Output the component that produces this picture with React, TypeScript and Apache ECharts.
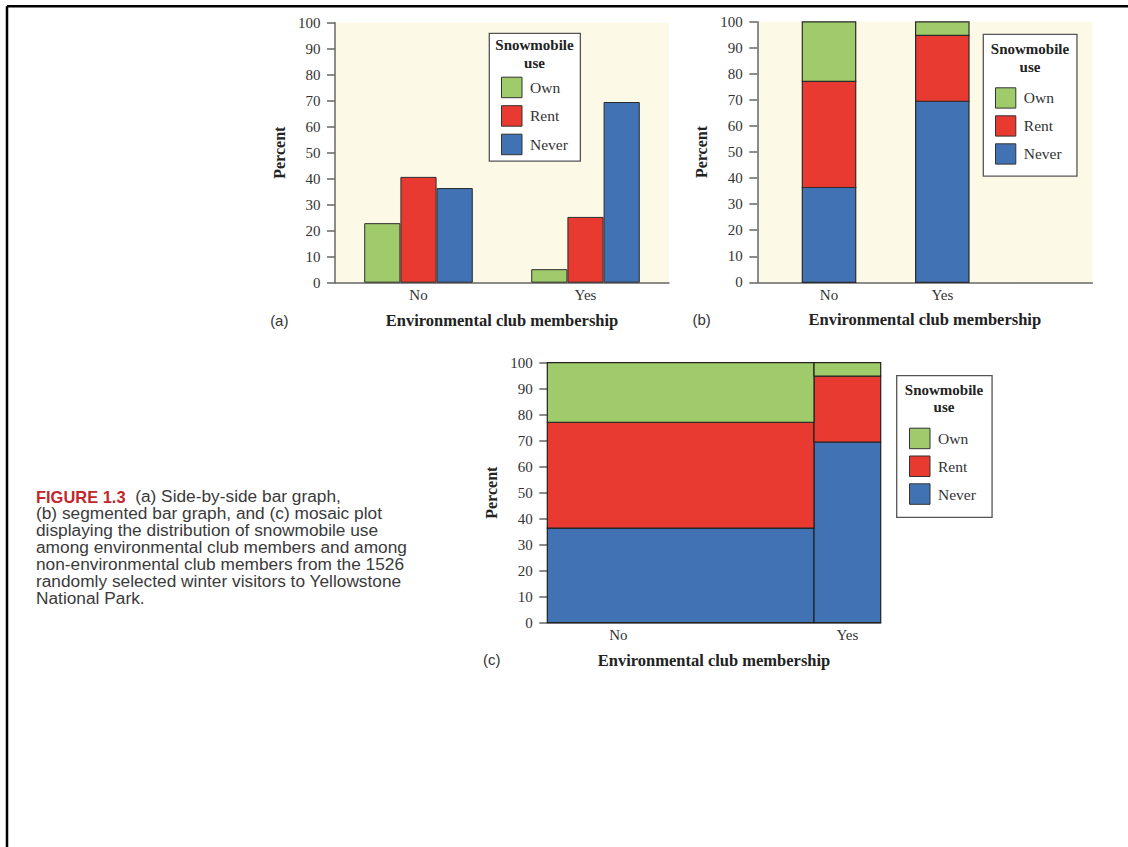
import React, { useEffect, useRef } from "react";
import * as echarts from "echarts";

// ---- data ----
const categories = ["No", "Yes"];
const useLevels = ["Own", "Rent", "Never"];
const ownPct = [22.9, 5.2];
const rentPct = [40.7, 25.3];
const neverPct = [36.4, 69.5];
// share of visitors in each membership group (mosaic widths, %)
const memberShare = [80.0, 20.0];
// where the mosaic's category labels sit on its 0-100 x scale
const mosaicLabelPos = [21.3, 90];
const percentMin = 0;
const percentMax = 100;
const percentStep = 10;

const captionHead = "FIGURE 1.3";
const captionLines = [
  "  (a) Side-by-side bar graph,",
  "(b) segmented bar graph, and (c) mosaic plot",
  "displaying the distribution of snowmobile use",
  "among environmental club members and among",
  "non-environmental club members from the 1526",
  "randomly selected winter visitors to Yellowstone",
  "National Park.",
];

const legendTitle = ["Snowmobile", "use"];
const xName = "Environmental club membership";
const yName = "Percent";
const panelTags = ["(a)", "(b)", "(c)"];

const COLORS: Record<string, string> = {
  Own: "#A0CB6B",
  Rent: "#E83A30",
  Never: "#4072B4",
};
const SERIF = '"Liberation Serif", "Times New Roman", serif';
const SANS = '"Liberation Sans", Arial, sans-serif';

const pctByLevel: Record<string, number[]> = {
  Own: ownPct,
  Rent: rentPct,
  Never: neverPct,
};
const stackOrder = ["Never", "Rent", "Own"];

function belowOf(level: string, i: number) {
  let below = 0;
  for (const l of stackOrder) {
    if (l === level) break;
    below += pctByLevel[l][i];
  }
  return below;
}

function mosaicData(level: string) {
  return categories.map((_, i) => {
    let x0 = 0;
    for (let k = 0; k < i; k++) x0 += memberShare[k];
    const x1 = x0 + memberShare[i];
    const below = belowOf(level, i);
    return [x0, x1, below, below + pctByLevel[level][i]];
  });
}

function segmentData(level: string) {
  return categories.map((_, i) => {
    const below = belowOf(level, i);
    return [i, below, below + pctByLevel[level][i]];
  });
}

function yAxisCfg(idx: number) {
  return {
    type: "value",
    gridIndex: idx,
    min: percentMin,
    max: percentMax,
    interval: percentStep,
    name: yName,
    nameLocation: "middle",
    nameGap: 48,
    nameTextStyle: { fontFamily: SERIF, fontWeight: "bold", fontSize: 16, color: "#222" },
    axisLine: { show: true, onZero: false, lineStyle: { color: "#666", width: 1.5 } },
    axisTick: { show: true, length: 8, lineStyle: { color: "#666", width: 1.5 } },
    axisLabel: { fontFamily: SERIF, fontSize: 15, color: "#333", margin: 14.5 },
    splitLine: { show: false },
  };
}

const xNameStyle = { fontFamily: SERIF, fontWeight: "bold", fontSize: 16.5, color: "#222" };
const xLabelStyle = { fontFamily: SERIF, fontSize: 15, color: "#333", margin: 5 };
const xLine = { show: true, onZero: false, lineStyle: { color: "#666", width: 1.5 } };

function legendCfg(left: number, top: number, padding: number[], gap: number, size: number) {
  return {
    orient: "vertical",
    left,
    top,
    padding,
    itemGap: gap,
    itemWidth: size,
    itemHeight: size,
    icon: "rect",
    data: useLevels,
    selectedMode: false,
    backgroundColor: "#fff",
    borderColor: "#555",
    borderWidth: 1.3,
    itemStyle: { borderColor: "#333", borderWidth: 1 },
    textStyle: { fontFamily: SERIF, fontSize: 15.5, color: "#333", padding: [0, 0, 0, 3] },
  };
}

export default function App() {
  const ref = useRef<HTMLDivElement>(null);
  useEffect(() => {
    document.body.style.margin = "0";
    if (!ref.current) return;
    const chart = echarts.init(ref.current, null, { renderer: "svg" });

    const barStyle = (lvl: string) => ({
      color: COLORS[lvl],
      borderColor: "#2b2b2b",
      borderWidth: 1,
    });

    const seriesA = useLevels.map((lvl) => ({
      name: lvl,
      type: "bar",
      xAxisIndex: 0,
      yAxisIndex: 0,
      barGap: "0%",
      barCategoryGap: "35%",
      data: pctByLevel[lvl],
      itemStyle: barStyle(lvl),
    }));

    const segWidth = 53.4;
    const seriesB = stackOrder.map((lvl) => ({
      name: lvl,
      type: "custom",
      xAxisIndex: 1,
      yAxisIndex: 1,
      encode: { x: 0, y: [1, 2] },
      data: segmentData(lvl),
      itemStyle: { color: COLORS[lvl] },
      renderItem: (params: any, api: any) => {
        const top = api.coord([api.value(0), api.value(2)]);
        const bot = api.coord([api.value(0), api.value(1)]);
        return {
          type: "rect",
          shape: { x: top[0] - segWidth / 2, y: top[1], width: segWidth, height: bot[1] - top[1] },
          style: { fill: COLORS[lvl], stroke: "#2b2b2b", lineWidth: 1.2 },
        };
      },
    }));

    const seriesC = stackOrder.map((lvl) => ({
      name: lvl,
      type: "custom",
      xAxisIndex: 2,
      yAxisIndex: 2,
      encode: { x: [0, 1], y: [2, 3] },
      data: mosaicData(lvl),
      itemStyle: { color: COLORS[lvl] },
      renderItem: (params: any, api: any) => {
        const p0 = api.coord([api.value(0), api.value(3)]);
        const p1 = api.coord([api.value(1), api.value(2)]);
        return {
          type: "rect",
          shape: { x: p0[0], y: p0[1], width: p1[0] - p0[0], height: p1[1] - p0[1] },
          style: { fill: COLORS[lvl], stroke: "#222", lineWidth: 1.2 },
        };
      },
    }));

    const titleText = (cx: number, y1: number, y2: number) => [
      {
        type: "text",
        z: 100,
        x: cx,
        y: y1,
        style: { text: legendTitle[0], font: `bold 15px ${SERIF}`, fill: "#222", align: "center", verticalAlign: "middle" },
      },
      {
        type: "text",
        z: 100,
        x: cx,
        y: y2,
        style: { text: legendTitle[1], font: `bold 15px ${SERIF}`, fill: "#222", align: "center", verticalAlign: "middle" },
      },
    ];

    const tag = (t: string, x: number, y: number) => ({
      type: "text",
      z: 100,
      x,
      y,
      style: { text: t, font: `15px ${SANS}`, fill: "#333", align: "center", verticalAlign: "middle" },
    });

    const capScale = 1.055;
    const caption = captionLines.map((line, i) => {
      if (i === 0) {
        return {
          type: "text",
          z: 100,
          x: 36,
          y: 496.7,
          scaleX: capScale,
          style: {
            text: `{h|${captionHead}}{t|${line}}`,
            verticalAlign: "middle",
            align: "left",
            rich: {
              h: { font: `bold 15.6px ${SANS}`, fill: "#C1272D" },
              t: { font: `16.4px ${SANS}`, fill: "#3a3a3a" },
            },
          },
        };
      }
      return {
        type: "text",
        z: 100,
        x: 36,
        y: 496.7 + i * 16.93,
        scaleX: capScale,
        style: { text: line, font: `16.4px ${SANS}`, fill: "#3a3a3a", align: "left", verticalAlign: "middle" },
      };
    });

    chart.setOption({
      animation: false,
      grid: [
        { left: 335, top: 22.7, width: 334, height: 260, show: true, backgroundColor: "#FDF9E7", borderWidth: 0 },
        { left: 757.3, top: 21.8, width: 335, height: 260.5, show: true, backgroundColor: "#FDF9E7", borderWidth: 0 },
        { left: 547.3, top: 362.7, width: 333.4, height: 260, show: true, backgroundColor: "#FDF9E7", borderWidth: 0 },
      ],
      xAxis: [
        {
          type: "category",
          gridIndex: 0,
          data: categories,
          name: xName,
          nameLocation: "middle",
          nameGap: 29,
          nameTextStyle: xNameStyle,
          axisLine: xLine,
          axisTick: { show: false },
          axisLabel: xLabelStyle,
        },
        {
          type: "value",
          gridIndex: 1,
          min: -0.633,
          max: 2.324,
          name: xName,
          nameLocation: "middle",
          nameGap: 29,
          nameTextStyle: xNameStyle,
          axisLine: xLine,
          axisTick: { show: false },
          splitLine: { show: false },
          axisLabel: {
            ...xLabelStyle,
            customValues: categories.map((_, i) => i),
            formatter: (v: number) => categories[Math.round(v)] ?? "",
          },
        },
        {
          type: "value",
          gridIndex: 2,
          min: 0,
          max: 100,
          name: xName,
          nameLocation: "middle",
          nameGap: 29,
          nameTextStyle: xNameStyle,
          axisLine: xLine,
          axisTick: { show: false },
          splitLine: { show: false },
          axisLabel: {
            ...xLabelStyle,
            customValues: mosaicLabelPos,
            formatter: (v: number) => {
              let best = 0;
              mosaicLabelPos.forEach((p, i) => {
                if (Math.abs(p - v) < Math.abs(mosaicLabelPos[best] - v)) best = i;
              });
              return categories[best];
            },
          },
        },
      ],
      yAxis: [yAxisCfg(0), yAxisCfg(1), yAxisCfg(2)],
      legend: [
        legendCfg(489.3, 33.3, [43.4, 12.5, 6, 11.7], 7, 20.5),
        legendCfg(983.3, 34.3, [53, 15.3, 11.6, 11.7], 6.7, 20.3),
        legendCfg(896.7, 375.7, [52, 16.2, 12.6, 12.3], 6.3, 20.5),
      ],
      graphic: [
        { type: "line", z: 100, shape: { x1: 7, y1: 6.2, x2: 1128, y2: 6.2 }, style: { stroke: "#000", lineWidth: 2.5 } },
        { type: "line", z: 100, shape: { x1: 7, y1: 6.2, x2: 7, y2: 847 }, style: { stroke: "#000", lineWidth: 2.5 } },
        ...titleText(534.5, 45, 63.3),
        ...titleText(1030, 49, 66.7),
        ...titleText(944, 390, 407.3),
        tag(panelTags[0], 279.3, 320),
        tag(panelTags[1], 701.7, 319),
        tag(panelTags[2], 491.7, 659.3),
        ...caption,
      ],
      series: [...seriesA, ...seriesB, ...seriesC],
    });
    return () => chart.dispose();
  }, []);
  return <div ref={ref} style={{ width: 1128, height: 847 }} />;
}
